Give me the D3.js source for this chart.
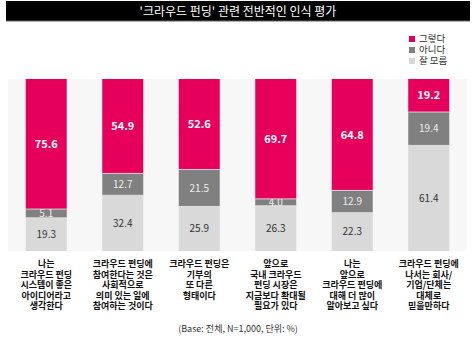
<!DOCTYPE html>
<html>
<head>
<meta charset="utf-8">
<script src="https://cdn.jsdelivr.net/npm/d3@7"></script>
<style>
  body { margin: 0; background: #fff; }
  text { font-family: "Noto Sans CJK KR", "Noto Sans", sans-serif; }
</style>
</head>
<body>
<div id="chart"></div>
<script>
// Data
const categories = [
  ['나는', '크라우드 펀딩', '시스템이 좋은', '아이디어라고', '생각한다'],
  ['크라우드 펀딩에', '참여한다는 것은', '사회적으로', '의미 있는 일에', '참여하는 것이다'],
  ['크라우드 펀딩은', '기부의', '또 다른', '형태이다'],
  ['앞으로', '국내 크라우드', '펀딩 시장은', '지금보다 확대될', '필요가 있다'],
  ['나는', '앞으로', '크라우드 펀딩에', '대해 더 많이', '알아보고 싶다'],
  ['크라우드 펀딩에', '나서는 회사/', '기업/단체는', '대체로', '믿을만하다']
]
const yes = [75.6, 54.9, 52.6, 69.7, 64.8, 19.2]
const no = [5.1, 12.7, 21.5, 4.0, 12.9, 19.4]
const dontKnow = [19.3, 32.4, 25.9, 26.3, 22.3, 61.4]
const seriesNames = ['그렇다', '아니다', '잘 모름']
const title = "'크라우드 펀딩' 관련 전반적인 인식 평가"
const note = '(Base: 전체, N=1,000, 단위: %)'

// Dimensions
const width = 476, height = 342
const plot = { left: 8, right: 467, top: 79, bottom: 251 }

const colors = { '그렇다': '#e6005c', '아니다': '#808080', '잘 모름': '#d9d9d9' }
const labelColors = { '그렇다': '#ffffff', '아니다': '#eeeeee', '잘 모름': '#333333' }

// stack from the bottom: 잘 모름, 아니다, 그렇다
const rows = categories.map((c, i) => ({
  i, '그렇다': yes[i], '아니다': no[i], '잘 모름': dontKnow[i]
}))
const stack = d3.stack().keys(['잘 모름', '아니다', '그렇다'])(rows)

// Scales
const xScale = d3.scaleBand()
  .domain(d3.range(categories.length))
  .range([plot.left, plot.right])
  .paddingInner(0.464)
  .paddingOuter(0.232)
const yScale = d3.scaleLinear()
  .domain([0, 100])
  .range([plot.bottom, plot.top])

const svg = d3.select('#chart')
  .append('svg')
  .attr('width', width)
  .attr('height', height)

// Title bar
svg.append('rect')
  .attr('x', 6).attr('y', 1)
  .attr('width', 464).attr('height', 20)
  .attr('fill', '#000')
svg.append('rect')
  .attr('x', 6).attr('y', 20.5)
  .attr('width', 464).attr('height', 1)
  .attr('fill', '#666')
svg.append('text')
  .attr('x', 238).attr('y', 15.5)
  .attr('text-anchor', 'middle')
  .attr('fill', '#fff')
  .style('font-size', '12px')
  .text(title)

// Plot background
svg.append('rect')
  .attr('x', plot.left).attr('y', plot.top)
  .attr('width', plot.right - plot.left)
  .attr('height', plot.bottom - plot.top)
  .attr('fill', '#f7f7f7')

// Bars
const layers = svg.selectAll('g.layer')
  .data(stack)
  .join('g')
  .attr('class', 'layer')
  .attr('fill', d => colors[d.key])

layers.selectAll('rect')
  .data(d => d)
  .join('rect')
  .attr('x', d => xScale(d.data.i))
  .attr('y', d => yScale(d[1]))
  .attr('width', xScale.bandwidth())
  .attr('height', d => yScale(d[0]) - yScale(d[1]))

// Divider lines between segments
layers.filter(d => d.key !== '잘 모름')
  .selectAll('line')
  .data(d => d)
  .join('line')
  .attr('x1', d => xScale(d.data.i))
  .attr('x2', d => xScale(d.data.i) + xScale.bandwidth())
  .attr('y1', d => yScale(d[0]))
  .attr('y2', d => yScale(d[0]))
  .attr('stroke', '#e8e8e8')
  .attr('stroke-width', 0.8)

// Value labels
layers.selectAll('text')
  .data(d => d.map(v => ({ key: d.key, v })))
  .join('text')
  .attr('x', d => xScale(d.v.data.i) + xScale.bandwidth() / 2)
  .attr('y', d => yScale((d.v[0] + d.v[1]) / 2))
  .attr('dy', '0.36em')
  .attr('text-anchor', 'middle')
  .attr('fill', d => labelColors[d.key])
  .style('font-size', d => d.key === '그렇다' ? '11px' : '10px')
  .style('font-weight', d => d.key === '그렇다' ? 'bold' : 'normal')
  .text(d => d.v.data[d.key].toFixed(1))

// Category labels
svg.selectAll('text.cat')
  .data(categories)
  .join('text')
  .attr('class', 'cat')
  .attr('x', (d, i) => xScale(i) + xScale.bandwidth() / 2)
  .attr('y', 267)
  .attr('text-anchor', 'middle')
  .attr('fill', '#111')
  .style('font-size', '9px')
  .style('font-weight', 'bold')
  .selectAll('tspan')
  .data(d => d)
  .join('tspan')
  .attr('x', function () { return this.parentNode.getAttribute('x') })
  .attr('dy', (d, j) => j === 0 ? 0 : 10.6)
  .text(d => d)

// Legend
const legend = svg.append('g')
  .attr('transform', 'translate(409, 39)')
const item = legend.selectAll('g')
  .data(seriesNames)
  .join('g')
  .attr('transform', (d, i) => `translate(0, ${i * 11})`)
item.append('rect')
  .attr('x', 0).attr('y', -3)
  .attr('width', 6).attr('height', 6)
  .attr('fill', d => colors[d])
item.append('text')
  .attr('x', 10).attr('y', 0)
  .attr('dy', '0.35em')
  .attr('fill', '#333')
  .style('font-size', '9.5px')
  .text(d => d)

// Footnote
svg.append('text')
  .attr('x', 238).attr('y', 332)
  .attr('text-anchor', 'middle')
  .attr('fill', '#333')
  .style('font-size', '9px')
  .text(note)
</script>
</body>
</html>
